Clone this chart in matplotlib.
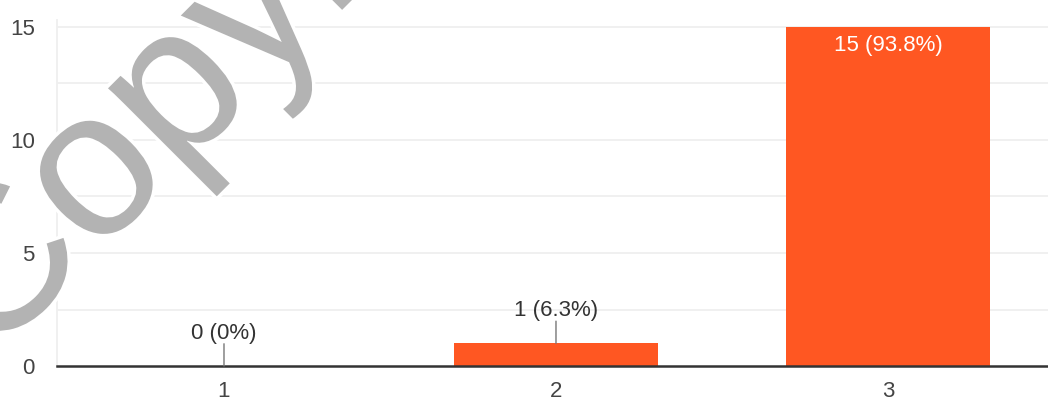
import matplotlib.pyplot as plt
import matplotlib.patheffects as pe

plt.rcParams['font.family'] = ['Liberation Sans', 'DejaVu Sans']

categories = ['1', '2', '3']
counts = [0, 1, 15]
percents = ['0%', '6.3%', '93.8%']
y_ticks = [0, 5, 10, 15]

bar_color = '#ff5722'
text_color = '#333333'
grid_color = '#efefef'

fig = plt.figure(figsize=(10.48, 4.01), dpi=100)
# axes box in pixel terms: left edge at 57px, zero line at 366px, 22.6px per unit
px_unit = 22.6
top_val = 15.3
ax = fig.add_axes([57 / 1048, 1 - 366 / 401, 1 - 57 / 1048, top_val * px_unit / 401])

xs = [1, 2, 3]
ax.bar(xs, counts, width=0.617, color=bar_color, zorder=2)
ax.set_xlim(0.497, 3.482)
ax.set_ylim(0, top_val)

# light gridlines every 2.5
for v in [2.5, 5, 7.5, 10, 12.5, 15]:
    ax.axhline(v, color=grid_color, lw=1.3, zorder=0)

ax.set_yticks(y_ticks)
ax.set_yticklabels([str(t) for t in y_ticks])
ax.set_xticks(xs)
ax.set_xticklabels(categories)
ax.tick_params(axis='both', length=0, labelsize=16, labelcolor='#444444')
ax.tick_params(axis='y', pad=16)
ax.tick_params(axis='x', pad=11)

for side in ['top', 'right']:
    ax.spines[side].set_visible(False)
ax.spines['left'].set_color(grid_color)
ax.spines['left'].set_linewidth(1.3)
ax.spines['bottom'].set_color('#333333')
ax.spines['bottom'].set_linewidth(1.8)
ax.spines['bottom'].set_zorder(3)

# value labels: leader line above short bars, white text inside tall ones
for x, c, p in zip(xs, counts, percents):
    label = f'{c} ({p})'
    if c >= 5:
        ax.annotate(label, (x, c), xytext=(0, -6), textcoords='offset points',
                    ha='center', va='top', color='white', fontsize=16, zorder=4)
    else:
        ax.annotate('', (x, c), xytext=(0, 16), textcoords='offset points',
                    arrowprops=dict(arrowstyle='-', color='#777777', lw=1,
                                    shrinkA=0, shrinkB=0), zorder=4)
        ax.annotate(label, (x, c), xytext=(0, 16), textcoords='offset points',
                    ha='center', va='bottom', color=text_color, fontsize=16, zorder=4)

# watermark
fig.text(-12 / 1048, 1 - 364 / 401, 'Copyright', fontsize=150, rotation=45,
         rotation_mode='anchor', ha='left', va='baseline', color='#b3b3b3',
         zorder=10, path_effects=[pe.withStroke(linewidth=5, foreground='white')])

fig.savefig('out.png', dpi=100)
